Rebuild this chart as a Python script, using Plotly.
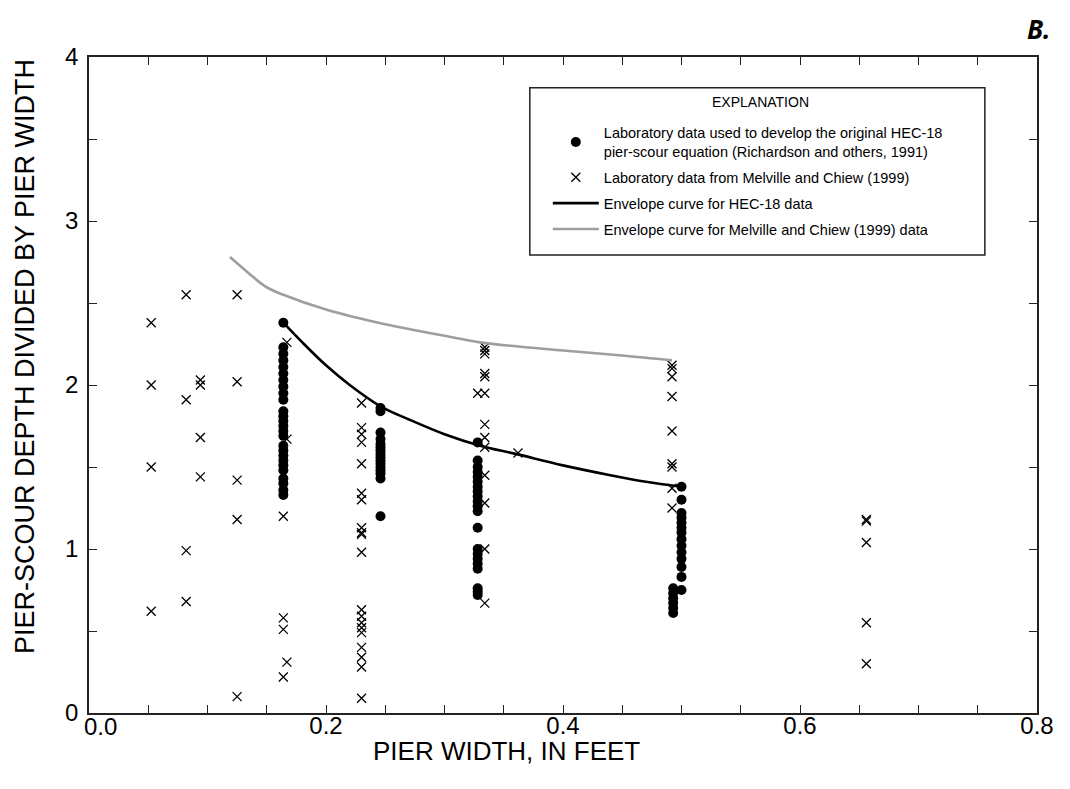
import plotly.graph_objects as go

# ---- HEC-18 laboratory data (filled dots) ----
hec_x = ([0.164] * 26 + [0.246] * 16 + [0.328] * 21 + [0.500] * 14 + [0.493] * 6)
hec_y = [2.38, 2.23, 2.19, 2.15, 2.11, 2.07, 2.03, 1.99, 1.95, 1.91, 1.84, 1.81, 1.78,
         1.75, 1.72, 1.69, 1.63, 1.60, 1.57, 1.54, 1.51, 1.48, 1.43, 1.40, 1.36, 1.33,
         1.86, 1.84, 1.71, 1.67, 1.64, 1.62, 1.60, 1.58, 1.56, 1.54, 1.52, 1.50, 1.48,
         1.46, 1.43, 1.20,
         1.65, 1.54, 1.50, 1.47, 1.44, 1.41, 1.38, 1.35, 1.32, 1.29, 1.26, 1.23, 1.13,
         1.00, 0.97, 0.94, 0.91, 0.88, 0.76, 0.74, 0.72,
         1.38, 1.30, 1.22, 1.19, 1.16, 1.13, 1.10, 1.06, 1.02, 0.98, 0.94, 0.89, 0.83, 0.75,
         0.76, 0.73, 0.70, 0.67, 0.64, 0.61]

# ---- Melville and Chiew (1999) data (crosses) ----
mc_x = ([0.0525] * 4 + [0.082] * 4 + [0.094] * 4 + [0.125] * 5 + [0.164] * 4 + [0.167] * 3
        + [0.230] * 20 + [0.334] * 13 + [0.328] + [0.362] + [0.492] * 9 + [0.656] * 5)
mc_y = [2.38, 2.00, 1.50, 0.62,
        2.55, 1.91, 0.99, 0.68,
        2.03, 2.00, 1.68, 1.44,
        2.55, 2.02, 1.42, 1.18, 0.10,
        1.20, 0.58, 0.51, 0.22,
        2.26, 1.67, 0.31,
        1.89, 1.74, 1.70, 1.65, 1.52, 1.34, 1.30, 1.13, 1.10, 1.09, 0.98, 0.63, 0.59,
        0.55, 0.52, 0.49, 0.40, 0.34, 0.28, 0.09,
        2.23, 2.21, 2.19, 2.07, 2.05, 1.95, 1.76, 1.68, 1.62, 1.45, 1.28, 1.00, 0.67,
        1.95,
        1.585,
        2.12, 2.10, 2.05, 1.93, 1.72, 1.52, 1.50, 1.37, 1.25,
        1.18, 1.17, 1.04, 0.55, 0.30]

# ---- Envelope curves ----
env_hec_x = [0.164, 0.18, 0.20, 0.22, 0.246, 0.27, 0.30, 0.33, 0.36, 0.40, 0.44, 0.47, 0.50]
env_hec_y = [2.38, 2.26, 2.12, 2.00, 1.87, 1.79, 1.70, 1.63, 1.58, 1.51, 1.45, 1.41, 1.38]
env_mc_x = [0.119, 0.135, 0.149, 0.164, 0.20, 0.25, 0.30, 0.33, 0.40, 0.45, 0.492]
env_mc_y = [2.78, 2.68, 2.60, 2.55, 2.46, 2.37, 2.30, 2.26, 2.21, 2.18, 2.15]

# ---- tick labels ----
x_tickvals = [0.2, 0.4, 0.6, 0.8]
x_ticktext = ["0.2", "0.4", "0.6", "0.8"]
x_origin_label = "0.0"
y_tickvals = [0, 1, 2, 3, 4]
y_ticktext = ["0", "1", "2", "3", "4"]

labels = [
    "Laboratory data used to develop the original HEC-18<br>pier-scour equation (Richardson and others, 1991)",
    "Laboratory data from Melville and Chiew (1999)",
    "Envelope curve for HEC-18 data",
    "Envelope curve for Melville and Chiew (1999) data",
]

FONT = "Liberation Sans, Arial, sans-serif"

fig = go.Figure()
fig.add_trace(go.Scatter(x=hec_x, y=hec_y, mode="markers", name=labels[0], legendgroup="a",
                         marker=dict(symbol="circle", size=10, color="black")))
fig.add_trace(go.Scatter(x=mc_x, y=mc_y, mode="markers", name=labels[1], legendgroup="b",
                         marker=dict(symbol="x-thin", size=9,
                                     line=dict(width=1.3, color="black"), color="black")))
fig.add_trace(go.Scatter(x=env_hec_x, y=env_hec_y, mode="lines", name=labels[2], legendgroup="c",
                         line=dict(color="black", width=2.6, shape="spline")))
fig.add_trace(go.Scatter(x=env_mc_x, y=env_mc_y, mode="lines", name=labels[3], legendgroup="d",
                         line=dict(color="#9e9e9e", width=2.6, shape="spline")))

axis_common = dict(showline=True, linecolor="#222", linewidth=1.5, mirror="allticks",
                   ticks="inside", ticklen=8, tickwidth=1.3, tickcolor="#222",
                   showgrid=False, zeroline=False, automargin=False,
                   tickfont=dict(family=FONT, size=24, color="black"))

fig.update_xaxes(range=[0, 0.8], tickmode="array", tickvals=x_tickvals, ticktext=x_ticktext,
                 ticklabelstandoff=-10,
                 minor=dict(dtick=0.05, tick0=0, ticks="inside", ticklen=8, tickwidth=1.3,
                            tickcolor="#222"),
                 **axis_common)
fig.update_yaxes(range=[0, 4], tickmode="array", tickvals=y_tickvals, ticktext=y_ticktext,
                 ticklabelstandoff=4,
                 minor=dict(dtick=0.5, tick0=0, ticks="inside", ticklen=8, tickwidth=1.3,
                            tickcolor="#222"),
                 **axis_common)

# origin label of x axis, nudged right of the y-axis "0" as in the original
fig.add_annotation(text=x_origin_label, xref="x", yref="paper", x=0, y=0, xshift=11, yshift=-13,
                   xanchor="center", yanchor="middle", showarrow=False,
                   font=dict(family=FONT, size=24, color="black"))

# axis titles
fig.add_annotation(text="PIER WIDTH, IN FEET", xref="paper", yref="paper", x=0.44, y=-0.0575,
                   xanchor="center", yanchor="middle", showarrow=False,
                   font=dict(family=FONT, size=26, color="black"))
fig.add_annotation(text="PIER-SCOUR DEPTH DIVIDED BY PIER WIDTH", xref="paper", yref="paper",
                   x=-0.0675, y=0.5427, xanchor="center", yanchor="middle", textangle=-90,
                   showarrow=False, font=dict(family=FONT, size=27, color="black"))

# legend frame and heading
fig.add_shape(type="rect", xref="paper", yref="paper", x0=0.465, x1=0.945, y0=0.698, y1=0.953,
              line=dict(color="#222", width=1.5), fillcolor="white", layer="below")
fig.add_annotation(text="EXPLANATION", xref="paper", yref="paper", x=0.708, y=0.931,
                   xanchor="center", yanchor="middle", showarrow=False,
                   font=dict(family="Liberation Sans Narrow, " + FONT, size=14, color="black"))
fig.add_annotation(text="<b><i>B.</i></b>", xref="paper", yref="paper", x=1.017, y=1.043,
                   xanchor="right", yanchor="middle", showarrow=False,
                   font=dict(family="Open Sans, DejaVu Sans, sans-serif", size=26, color="black"))

# the page adds an 8px body margin, so the figure is 8px smaller on each side
fig.update_layout(
    width=1054, height=773,
    margin=dict(l=81, r=25, t=49, b=68),
    paper_bgcolor="white", plot_bgcolor="white",
    showlegend=True,
    legend=dict(x=0.484, y=0.909, xanchor="left", yanchor="top",
                bgcolor="rgba(0,0,0,0)", borderwidth=0, traceorder="grouped",
                font=dict(family=FONT, size=14.5, color="black"),
                itemwidth=46, tracegroupgap=4),
)

fig.write_html("out.html")
